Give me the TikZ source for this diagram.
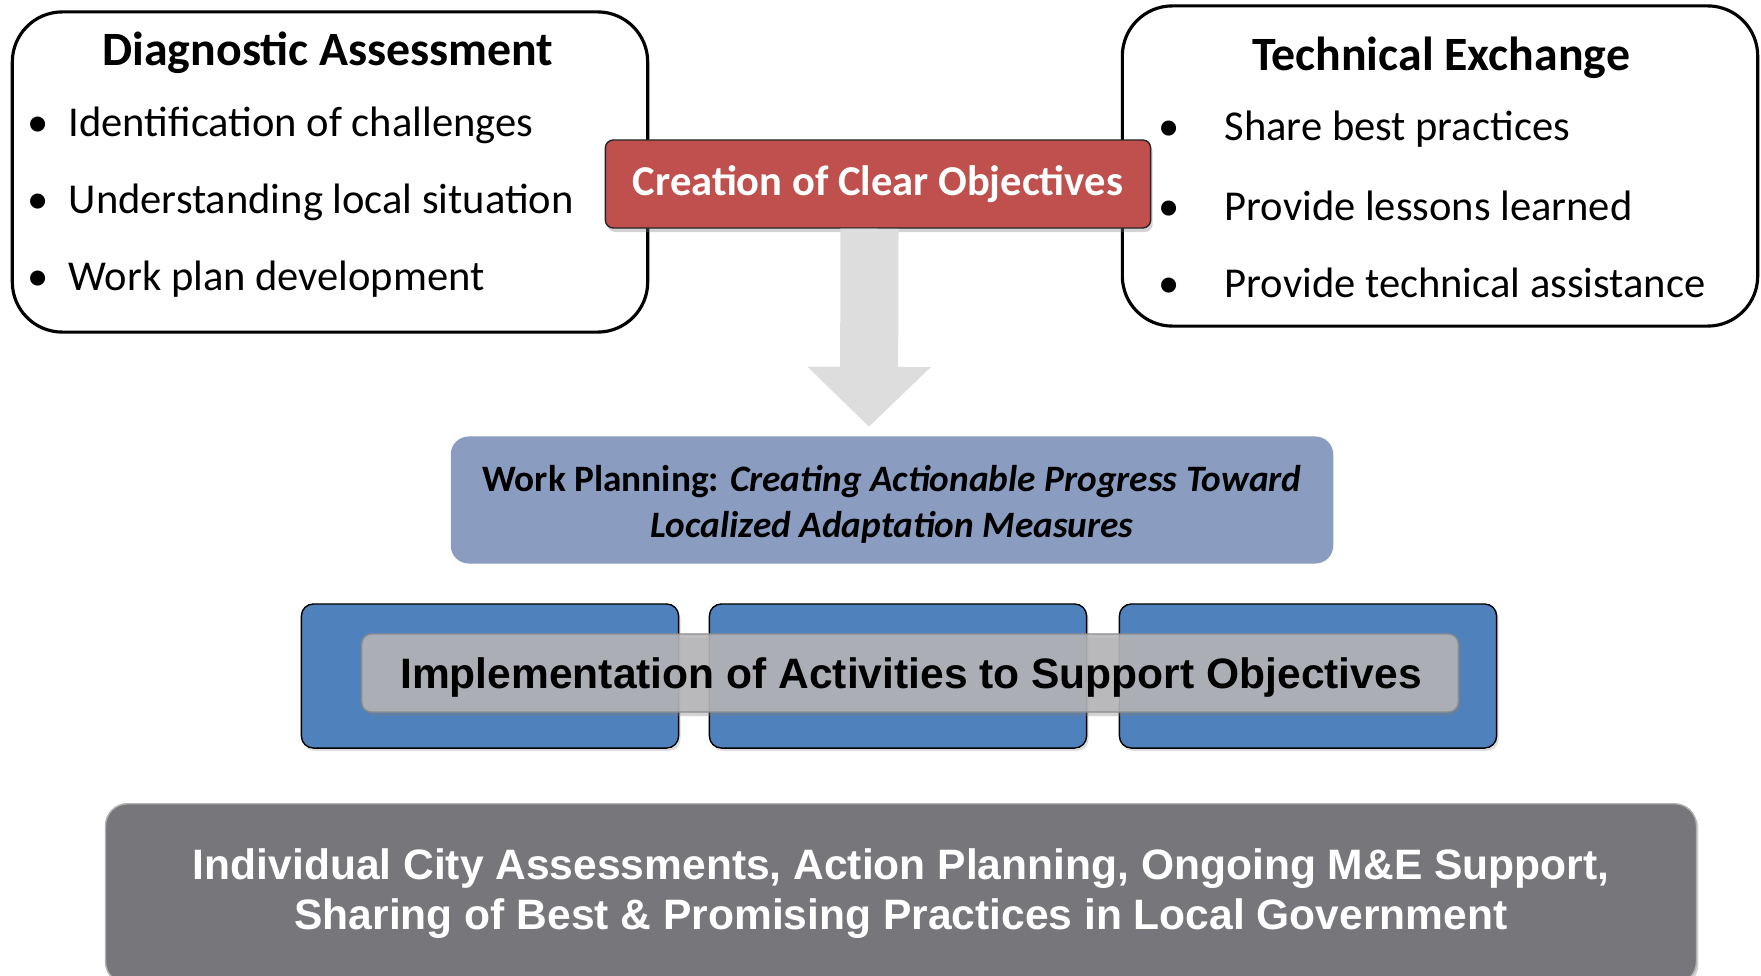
\documentclass[tikz,border=0pt]{standalone}
\usepackage{fontspec}
\setmainfont{Carlito}
\newfontfamily\arialfont{Liberation Sans}
\usetikzlibrary{arrows.meta,shadows}

\definecolor{objred}{HTML}{C0504D}
\definecolor{planblue}{HTML}{8A9DC0}
\definecolor{actblue}{HTML}{4F81BD}
\definecolor{bargray}{HTML}{B6B6B8}
\definecolor{basegray}{HTML}{77767B}
\definecolor{arrowgray}{HTML}{DDDDDD}

\begin{document}
\begin{tikzpicture}[x=0.01cm,y=-0.01cm,
	box/.style={draw, line width=0.9pt, rounded corners=0.5cm, minimum width=6.35cm, minimum height=3.2cm},
	head/.style={inner sep=0pt, font=\bfseries\fontsize{13.6}{16}\selectfont},
	item/.style={anchor=west, inner sep=0pt, font=\fontsize{12.1}{14}\selectfont},
	objbox/.style={draw=black!85, fill=objred, text=white, rounded corners=0.08cm, minimum width=5.45cm, minimum height=0.88cm, font=\bfseries\fontsize{12.1}{14}\selectfont, drop shadow={opacity=0.35, shadow xshift=0.02cm, shadow yshift=-0.04cm}},
	planbox/.style={fill=planblue, rounded corners=0.18cm, minimum width=8.82cm, minimum height=1.27cm},
	actbox/.style={draw, fill=actblue, rounded corners=0.12cm, minimum width=3.77cm, minimum height=1.44cm, drop shadow={opacity=0.25, shadow xshift=0.02cm, shadow yshift=-0.03cm}},
	bar/.style={draw=black!45, fill=bargray, fill opacity=0.88, rounded corners=0.1cm, minimum width=10.96cm, minimum height=0.78cm, drop shadow={opacity=0.35, shadow xshift=0.02cm, shadow yshift=-0.04cm}},
	base/.style={fill=basegray, draw=black!30, rounded corners=0.22cm, minimum width=15.9cm, minimum height=1.8cm, align=center, text=white, font=\arialfont\bfseries\fontsize{12.1}{14.4}\selectfont, drop shadow={opacity=0.35, shadow xshift=0.02cm, shadow yshift=-0.03cm}},
	bigarrow/.style={draw=arrowgray, line width=0.58cm, -{Triangle[width=1.2cm,length=0.6cm]}}]

	\clip (0,0) rectangle (1761,976);

	% the two outer boxes
	\node[box] (diag) at (330,172) {};
	\node[box] (techx) at (1440,166) {};

	\node[head] (diagT) at (328,53) {Diagnostic Assessment};
	\foreach \txt [count=\i] in {Identification of challenges, Understanding local situation, Work plan development}
		\node[item] (diag\i) at (68,{125+77*(\i-1)}) {\llap{\textbullet\hspace{0.2cm}}\txt};

	\node[head] (techxT) at (1441,58) {Technical Exchange};
	\foreach \txt [count=\i] in {Share best practices, Provide lessons learned, Provide technical assistance}
		\node[item] (techx\i) at (1224,{129+77*(\i-1)}) {\llap{\textbullet\hspace{0.45cm}}\txt};

	% objectives and the arrow down to planning
	\node[planbox] (plan) at (892,500) {};
	\node[font=\bfseries\fontsize{10.6}{12.6}\selectfont, align=center] (planT) at (892,504) {Work Planning: \textit{Creating Actionable Progress Toward}\\[0.5pt] \textit{Localized Adaptation Measures}};
	\node[objbox] (obj) at (878,184) {Creation of Clear Objectives};
	\draw[bigarrow] ([xshift=-0.085cm]obj.south) -- ([xshift=-0.23cm,yshift=0.09cm]plan.north);

	% activities
	\foreach \x [count=\i] in {490,898,1308}
		\node[actbox] (act\i) at (\x,676) {};
	\node[bar] (impl) at (910,673) {};
	\node[font=\arialfont\bfseries\fontsize{12.1}{14}\selectfont] (implT) at (911,677) {Implementation of Activities to Support Objectives};

	\node[base, anchor=north] (base) at (901,803) {Individual City Assessments, Action Planning, Ongoing M\&E Support,\\ Sharing of Best \& Promising Practices in Local Government};
\end{tikzpicture}
\end{document}
